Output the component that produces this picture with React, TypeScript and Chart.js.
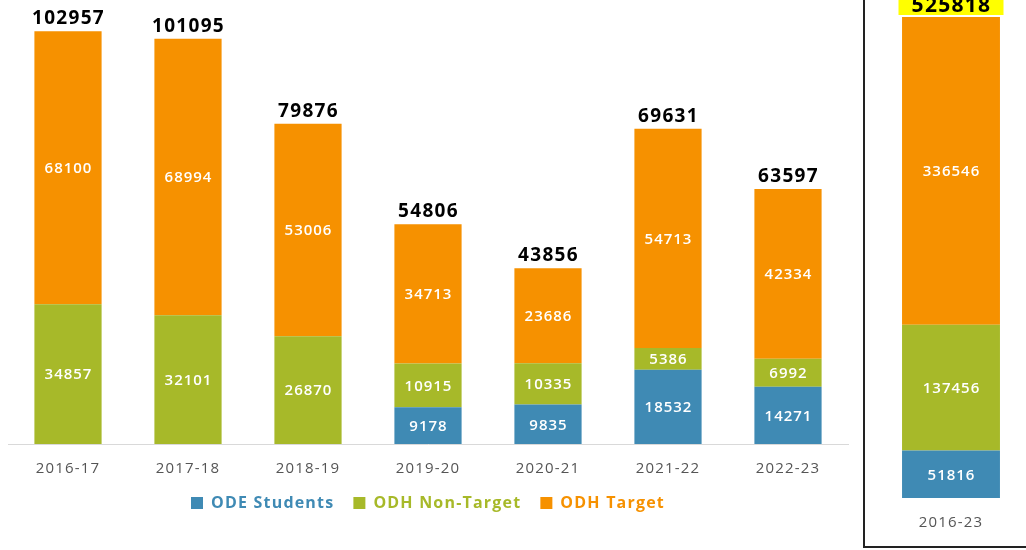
import React, { useEffect, useRef } from "react";
import { Chart, registerables } from "chart.js";

Chart.register(...registerables);

const categories = ["2016-17", "2017-18", "2018-19", "2019-20", "2020-21", "2021-22", "2022-23"];
const odeStudents: (number | null)[] = [null, null, null, 9178, 9835, 18532, 14271];
const odhNonTarget = [34857, 32101, 26870, 10915, 10335, 5386, 6992];
const odhTarget = [68100, 68994, 53006, 34713, 23686, 54713, 42334];
const totalLabels = [102957, 101095, 79876, 54806, 43856, 69631, 63597];

const summaryCategories = ["2016-23"];
const summaryOde = [51816];
const summaryNonTarget = [137456];
const summaryTarget = [336546];
const summaryTotal = [525818];

const seriesNames = ["ODE Students", "ODH Non-Target", "ODH Target"];
const BLUE = "#3f8ab4";
const GREEN = "#a7b929";
const ORANGE = "#f69100";
const FONT = "'Open Sans', 'DejaVu Sans', sans-serif";

function makeLabelPlugin(totals: number[], highlight: boolean, totalSize: number) {
  return {
    id: "segLabels",
    beforeUpdate(chart: any) {
      chart.ctx.letterSpacing = "1.2px";
    },
    beforeDraw(chart: any) {
      chart.ctx.letterSpacing = "1.2px";
    },
    afterDatasetsDraw(chart: any) {
      const ctx = chart.ctx;
      ctx.save();
      ctx.letterSpacing = "1px";
      ctx.textAlign = "center";
      ctx.textBaseline = "middle";
      ctx.fillStyle = "#ffffff";
      ctx.font = `600 15px ${FONT}`;
      chart.data.datasets.forEach((ds: any, di: number) => {
        const meta = chart.getDatasetMeta(di);
        meta.data.forEach((el: any, i: number) => {
          const v = ds.data[i];
          if (v === null || v === undefined) return;
          const p = el.getProps(["x", "y", "base"], true);
          ctx.fillText(String(v), p.x + 0.5, (p.y + p.base) / 2 + 1);
        });
      });
      const topMeta = chart.getDatasetMeta(chart.data.datasets.length - 1);
      ctx.letterSpacing = "1.3px";
      ctx.font = `bold ${totalSize}px ${FONT}`;
      ctx.textBaseline = "alphabetic";
      topMeta.data.forEach((el: any, i: number) => {
        const p = el.getProps(["x", "y"], true);
        const txt = String(totals[i]);
        if (highlight) {
          const w = 105;
          ctx.fillStyle = "#ffff00";
          ctx.fillRect(p.x - w / 2, p.y - 2 - 28, w, 28);
        }
        ctx.fillStyle = "#000000";
        ctx.fillText(txt, p.x + 0.5, p.y - (highlight ? 5 : 7));
      });
      ctx.restore();
    },
  };
}

function MainChart() {
  const ref = useRef<HTMLCanvasElement>(null);
  useEffect(() => {
    if (!ref.current) return;
    const colors = [BLUE, GREEN, ORANGE];
    const chart = new Chart(ref.current, {
      type: "bar",
      data: {
        labels: categories,
        datasets: [
          { label: seriesNames[0], data: odeStudents, backgroundColor: BLUE },
          { label: seriesNames[1], data: odhNonTarget, backgroundColor: GREEN },
          { label: seriesNames[2], data: odhTarget, backgroundColor: ORANGE },
        ],
      },
      options: {
        responsive: false,
        animation: false,
        layout: { padding: { left: 8, right: 8, top: 3, bottom: 9 } },
        datasets: { bar: { categoryPercentage: 1, barPercentage: 0.56 } },
        scales: {
          x: {
            stacked: true,
            grid: { display: false, drawTicks: false },
            border: { display: true, color: "#d9d9d9", width: 1 },
            ticks: { color: "#555555", font: { family: FONT, size: 15 }, padding: 16 },
            afterFit: (scale: any) => {
              scale.height = 32;
            },
          },
          y: { stacked: true, display: false, min: 0, max: 110000 },
        },
        plugins: {
          tooltip: { enabled: false },
          legend: {
            position: "bottom",
            labels: {
              boxWidth: 12,
              boxHeight: 12,
              padding: 19,
              font: { family: FONT, size: 16, weight: "bold" },
              generateLabels: (c: any) =>
                c.data.datasets.map((ds: any, i: number) => ({
                  text: ds.label,
                  fillStyle: colors[i],
                  strokeStyle: colors[i],
                  lineWidth: 0,
                  fontColor: colors[i],
                  datasetIndex: i,
                  hidden: false,
                })),
            },
          },
        },
      },
      plugins: [makeLabelPlugin(totalLabels, false, 19)],
    } as any);
    return () => chart.destroy();
  }, []);
  return <canvas ref={ref} width={856} height={530} style={{ position: "absolute", left: 0, top: 0 }} />;
}

function SummaryChart() {
  const ref = useRef<HTMLCanvasElement>(null);
  useEffect(() => {
    if (!ref.current) return;
    const chart = new Chart(ref.current, {
      type: "bar",
      data: {
        labels: summaryCategories,
        datasets: [
          { label: seriesNames[0], data: summaryOde, backgroundColor: BLUE },
          { label: seriesNames[1], data: summaryNonTarget, backgroundColor: GREEN },
          { label: seriesNames[2], data: summaryTarget, backgroundColor: ORANGE },
        ],
      },
      options: {
        responsive: false,
        animation: false,
        layout: { padding: 0 },
        datasets: { bar: { categoryPercentage: 1, barPercentage: 0.576 } },
        scales: {
          x: {
            stacked: true,
            grid: { display: false, drawTicks: false },
            border: { display: false },
            ticks: { color: "#555555", font: { family: FONT, size: 15 }, padding: 16 },
            afterFit: (scale: any) => {
              scale.height = 32;
            },
          },
          y: { stacked: true, display: false, min: 0, max: 577200 },
        },
        plugins: { tooltip: { enabled: false }, legend: { display: false } },
      },
      plugins: [makeLabelPlugin(summaryTotal, true, 21)],
    } as any);
    return () => chart.destroy();
  }, []);
  return <canvas ref={ref} width={170} height={560} style={{ position: "absolute", left: 866, top: -30 }} />;
}

export default function App() {
  return (
    <div
      style={{
        position: "fixed",
        left: 0,
        top: 0,
        width: 1026,
        height: 550,
        overflow: "hidden",
        background: "#ffffff",
      }}
    >
      <MainChart />
      <div
        style={{
          position: "absolute",
          left: 863,
          top: -10,
          width: 200,
          height: 558,
          boxSizing: "border-box",
          border: "2px solid #222222",
        }}
      />
      <SummaryChart />
    </div>
  );
}
